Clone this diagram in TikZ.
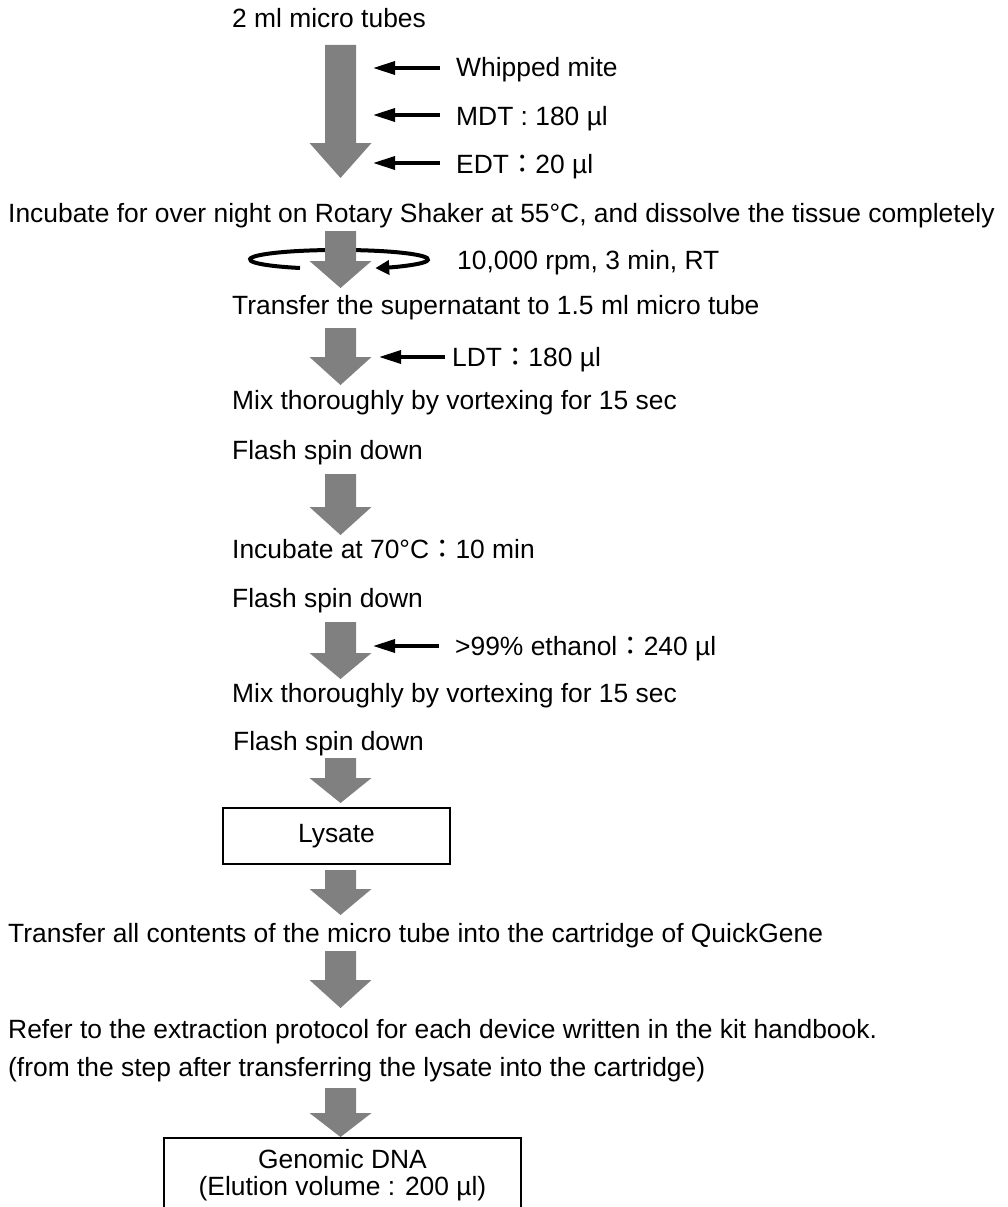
\documentclass[tikz,border=0pt]{standalone}
\usepackage{fontspec}
\setmainfont{Liberation Sans}
\newfontfamily\cjk{Noto Sans CJK JP}
\usetikzlibrary{calc,arrows.meta}
\tikzstyle{stage}=[anchor=base west, inner sep=0pt]
\tikzstyle{box}=[draw, line width=2pt, inner sep=0pt]
\tikzstyle{garrow}=[fill=black!50]
\tikzstyle{feed}=[line width=3.3pt, -{Triangle[length=22pt,width=13pt]}]
\tikzstyle{spinarrow}=[line width=4pt, -{Triangle[length=14pt,width=14pt]}]
\newcommand{\stage}{\node[stage]}
% gray block arrow: top, tip, head length
\newcommand{\garrow}[3]{\fill[garrow] ($(#1)+(-15.5,0)$) -- ($(#1)+(15.5,0)$) -- ($(#2)+(15.5,-#3)$) -- ($(#2)+(31,-#3)$) -- (#2) -- ($(#2)+(-31,-#3)$) -- ($(#2)+(-15.5,-#3)$) -- cycle;}
\newcommand{\cc}{{\cjk ：}}

\begin{document}
\begin{tikzpicture}[x=1pt,y=-1pt,font=\fontsize{26.4pt}{27pt}\selectfont]
\useasboundingbox (0,0) rectangle (1008,1207);
\stage (tubes) at (232,28) {2 ml micro tubes};
\stage (mite) at (456,77) {Whipped mite};
\stage (mdt) at (456,125) {MDT : 180 µl};
\stage (edt) at (456,173) {EDT\cc 20 µl};
\stage (incub) at (8,222) {Incubate for over night on Rotary Shaker at 55°C, and dissolve the tissue completely};
\stage (spin) at (457,269) {10,000 rpm, 3 min, RT};
\stage (super) at (232,314) {Transfer the supernatant to 1.5 ml micro tube};
\stage (ldt) at (452,366) {LDT\cc 180 µl};
\stage (mix1) at (232,409) {Mix thoroughly by vortexing for 15 sec};
\stage (flash1) at (232,459) {Flash spin down};
\stage (heat) at (232,558) {Incubate at 70°C\cc 10 min};
\stage (flash2) at (232,607) {Flash spin down};
\stage (etoh) at (455,655) {>99\% ethanol\cc 240 µl};
\stage (mix2) at (232,702) {Mix thoroughly by vortexing for 15 sec};
\stage (flash3) at (233,750) {Flash spin down};
\node[box, minimum width=227pt, minimum height=56pt] (lysate) at (336.5,836) {Lysate};
\stage (load) at (8,942) {Transfer all contents of the micro tube into the cartridge of QuickGene};
\stage (refer) at (8,1038) {Refer to the extraction protocol for each device written in the kit handbook.};
\stage (from) at (8,1076) {(from the step after transferring the lysate into the cartridge)};
\node[box, anchor=north, minimum width=357pt, inner ysep=11.8pt, align=center] (dna) at (342.5,1137) {Genomic DNA\\(Elution volume : 200 µl)};

% gray arrows
\coordinate (t1) at (340.5,45);   \coordinate (b1) at (340.5,178);
\coordinate (t2) at (340.5,231);  \coordinate (b2) at (340.5,288);
\coordinate (t3) at (340.5,328);  \coordinate (b3) at (340.5,385);
\coordinate (t4) at (340.5,474);  \coordinate (b4) at (340.5,535);
\coordinate (t5) at (340.5,622);  \coordinate (b5) at (340.5,679);
\coordinate (t6) at (340.5,758);  \coordinate (b6) at (340.5,803);
\coordinate (t7) at (340.5,870);  \coordinate (b7) at (340.5,915);
\coordinate (t8) at (340.5,951);  \coordinate (b8) at (340.5,1008);
\coordinate (t9) at (340.5,1088); \coordinate (b9) at (340.5,1137);
\draw[spinarrow] (300,268) arc[start angle=116, end angle=426, x radius=89, y radius=9.5];
\garrow{t1}{b1}{35}
\garrow{t2}{b2}{27}
\garrow{t3}{b3}{28}
\garrow{t4}{b4}{28}
\garrow{t5}{b5}{26}
\garrow{t6}{b6}{25}
\garrow{t7}{b7}{26}
\garrow{t8}{b8}{28}
\garrow{t9}{b9}{24}

% reagents
\coordinate (i1) at (373,68);  \coordinate (i2) at (373,115);
\coordinate (i3) at (373,163); \coordinate (i4) at (379,357);
\coordinate (i5) at (373,646);
\draw[feed] ([shift={(-16,-9)}]mite.base west) -- (i1);
\draw[feed] ([shift={(-16,-10)}]mdt.base west) -- (i2);
\draw[feed] ([shift={(-16,-10)}]edt.base west) -- (i3);
\draw[feed] ([shift={(-7,-9)}]ldt.base west) -- (i4);
\draw[feed] ([shift={(-16,-9)}]etoh.base west) -- (i5);
\end{tikzpicture}
\end{document}
